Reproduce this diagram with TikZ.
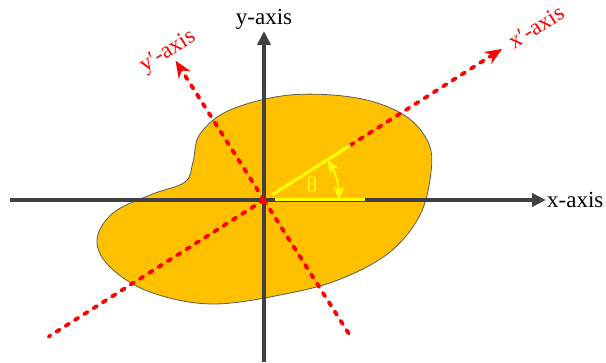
\documentclass[tikz,border=0pt]{standalone}
\usepackage{fontspec}
\setmainfont{Liberation Serif}
\newfontfamily\labelfont{Liberation Serif}
\usepackage{tikz}
\usetikzlibrary{arrows.meta,calc}
\definecolor{blobgold}{HTML}{FFC000}
\definecolor{axisgray}{HTML}{404040}
\definecolor{rimgray}{HTML}{595959}
\definecolor{primered}{HTML}{FF0000}
\definecolor{anglelight}{HTML}{FFFF00}
\tikzset{
  mainaxis/.style={-{Triangle[length=14pt,width=13pt]},line width=3.5pt,draw=axisgray},
  primeaxis/.style={line width=3.8pt,draw=primered,line cap=round,dash pattern=on 4pt off 7pt},
  primetip/.style={-{Stealth[length=17pt,width=14pt]}},
  anglebar/.style={line width=3pt,draw=anglelight},
  anglearrow/.style={{Stealth[length=14pt,width=11pt]}-{Stealth[length=14pt,width=11pt]},line width=2pt,draw=anglelight},
  axislabel/.style={font=\labelfont\fontsize{23}{27}\selectfont,inner sep=1pt},
  primelabel/.style={axislabel,text=primered,rotate=32.4}
}
\begin{document}
\begin{tikzpicture}[x=1pt,y=1pt]
\useasboundingbox (0,0) rectangle (606,362);
\coordinate (O) at (264,162);
% body
\draw[rimgray,line width=0.8pt,fill=blobgold] plot[smooth cycle,tension=0.6] coordinates {
  (290,267) (357,264) (404,247) (428,220) (431,190) (420,147) (390,110) (343,84)
  (290,69) (213,58) (150,70) (110,95) (97,122) (113,149) (150,167) (185,180)
  (193,200) (200,228) (230,252)};
% axes
\coordinate (xstart) at (10,162);
\coordinate (xend) at (546,162);
\coordinate (ystart) at (264,0);
\coordinate (yend) at (264,331);
\draw[mainaxis] (xstart) -- (xend);
\draw[mainaxis] (ystart) -- (yend);
% rotated axes
\coordinate (xptip) at ($(O)+(32.4:282)$);
\coordinate (xpstart) at ($(O)+(212.4:255)$);
\coordinate (yptip) at ($(O)+(122.4:165)$);
\coordinate (ypstart) at ($(O)+(-57.6:163)$);
\coordinate (thetaend) at ($(O)+(32.4:102)$);
\draw[primeaxis] (O) -- (xpstart);
\draw[primeaxis] (O) -- (ypstart);
\draw[primeaxis,primetip] (thetaend) -- (xptip);
\draw[primeaxis,primetip] (O) -- (yptip);
% angle
\draw[anglebar] ($(O)+(32.4:10)$) -- (thetaend);
\draw[anglebar] ($(O)+(0:11)$) -- ($(O)+(0:101)$);
\draw[anglearrow] ($(O)+(0:75)$) arc[start angle=0,end angle=32.4,radius=75];
\node[axislabel,text=anglelight] (theta) at (312,177) {θ};
% labels
\node[axislabel,above] (ylab) at (yend) {y-axis};
\node[axislabel,right] (xlab) at (xend) {x-axis};
\node[primelabel] (xplab) at (536,335) {x′-axis};
\node[primelabel] (yplab) at (168,310) {y′-axis};
\end{tikzpicture}
\end{document}
